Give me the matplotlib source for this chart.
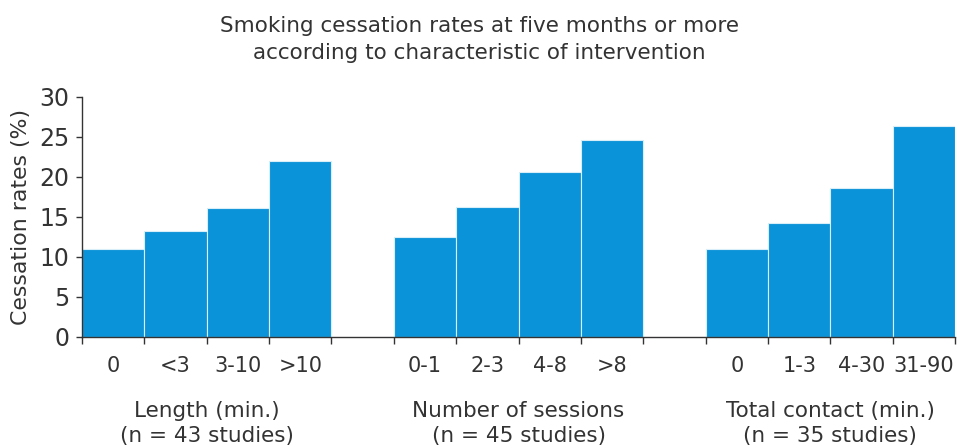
import matplotlib.pyplot as plt
import numpy as np

#<------------------------- Datos ------------------------------------->
longitud_labels = ['0', '<3', '3-10', '>10']
longitud_vals = [11.0, 13.3, 16.1, 22.0]
sesiones_labels = ['0-1', '2-3', '4-8', '>8']
sesiones_vals = [12.5, 16.2, 20.6, 24.6]
contacto_labels = ['0', '1-3', '4-30', '31-90']
contacto_vals = [11.0, 14.2, 18.6, 26.4]
grupos = ['Length (min.)\n(n = 43 studies)',
          'Number of sessions\n(n = 45 studies)',
          'Total contact (min.)\n(n = 35 studies)']

#<------------------------- Plot ------------------------------------->
azul = '#0a93d8'
gris = '#333333'

fig = plt.figure(figsize=(9.58, 4.48), dpi=100)
ax = fig.add_axes([0.0856, 0.2478, 0.9114, 0.5357])

series = [(longitud_labels, longitud_vals),
          (sesiones_labels, sesiones_vals),
          (contacto_labels, contacto_vals)]
centros, etiquetas, bordes = [], [], []
for g, (labs, vals) in enumerate(series):
    x0 = g * 5
    xs = x0 + np.arange(len(vals)) + 0.5
    ax.bar(xs, vals, width=1.0, color=azul, edgecolor='#d8eef9', linewidth=0.8)
    centros += list(xs)
    etiquetas += labs
    bordes += list(x0 + np.arange(len(vals) + 1))
    ax.text(x0 + 2, -0.265, grupos[g], transform=ax.get_xaxis_transform(),
            ha='center', va='top', fontsize=15.5, color=gris, linespacing=1.35)

ax.set_xlim(0, 14)
ax.set_ylim(0, 30)
ax.set_yticks(range(0, 31, 5))
ax.set_xticks(bordes)
ax.set_xticklabels([])
ax.set_xticks(centros, minor=True)
ax.set_xticklabels(etiquetas, minor=True)
ax.tick_params(axis='x', which='major', direction='out', length=5, color=gris, width=1)
ax.tick_params(axis='x', which='minor', length=0, pad=14, labelsize=15, labelcolor=gris)
ax.tick_params(axis='y', direction='out', length=4, pad=5, color=gris, width=1,
               labelsize=17, labelcolor=gris)

for s in ['top', 'right']:
    ax.spines[s].set_visible(False)
for s in ['left', 'bottom']:
    ax.spines[s].set_color(gris)
    ax.spines[s].set_linewidth(1)

ax.set_ylabel('Cessation rates (%)', fontsize=15.8, color=gris, labelpad=6)
fig.suptitle('Smoking cessation rates at five months or more\n'
             'according to characteristic of intervention',
             y=0.965, fontsize=15.5, color=gris, linespacing=1.45)

fig.savefig('out.png', dpi=100)
